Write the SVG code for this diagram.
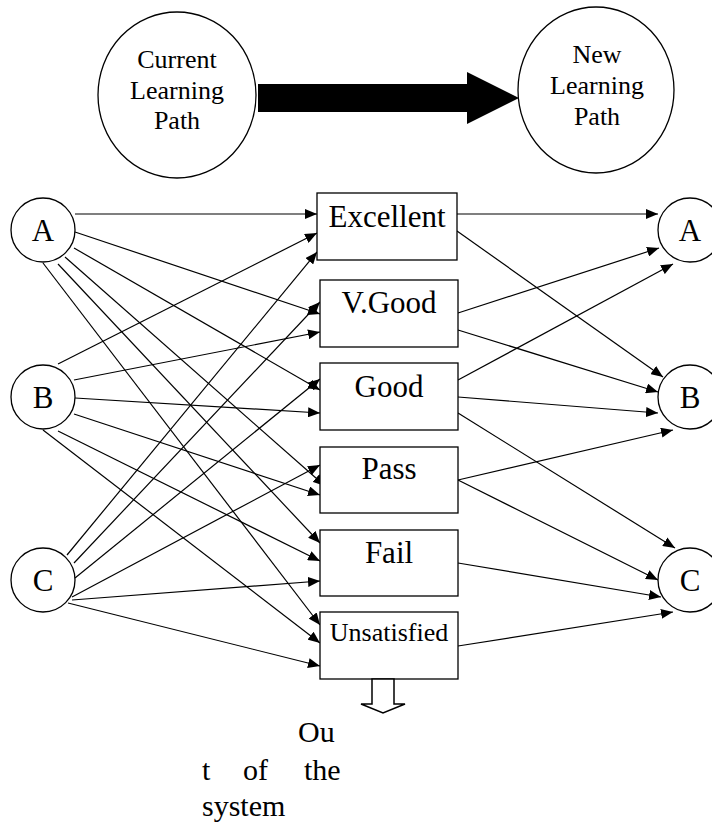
<svg xmlns="http://www.w3.org/2000/svg" width="712" height="823" viewBox="0 0 712 823">
<style>
.nd{fill:#fff;stroke:#000;stroke-width:1.3}
.t{font-family:"Liberation Serif","Times New Roman",serif;fill:#000;text-anchor:middle}
.lbl{font-size:31px}
.top{font-size:26px}
.c line{stroke:#000;stroke-width:1.2;marker-end:url(#ah)}
</style>
<defs>
<marker id="ah" viewBox="0 0 12 10" refX="12" refY="5" markerWidth="12" markerHeight="10" markerUnits="userSpaceOnUse" orient="auto">
<path d="M0,0 L12,5 L0,10 Z" fill="#000"/>
</marker>
</defs>
<rect width="712" height="823" fill="#fff"/>

<g id="current">
<ellipse class="nd" cx="177" cy="95" rx="79" ry="83"/>
<text class="t top" x="177" y="68">Current</text>
<text class="t top" x="177" y="99">Learning</text>
<text class="t top" x="177" y="129">Path</text>
</g>
<g id="bigarrow">
<polygon points="258,84 467,84 467,72 519,98 467,124 467,112 258,112" fill="#000"/>
</g>
<g id="new">
<ellipse class="nd" cx="596" cy="90" rx="78" ry="83"/>
<text class="t top" x="597" y="63">New</text>
<text class="t top" x="597" y="94">Learning</text>
<text class="t top" x="597" y="125">Path</text>
</g>

<g class="c" id="connectors">
<line x1="75" y1="214" x2="317" y2="214"/>
<line x1="75" y1="232" x2="320" y2="314"/>
<line x1="74" y1="248" x2="320" y2="390"/>
<line x1="65" y1="257" x2="325" y2="486"/>
<line x1="58" y1="264" x2="320" y2="543"/>
<line x1="43" y1="263" x2="320" y2="625"/>

<line x1="58" y1="364" x2="317" y2="233"/>
<line x1="74" y1="380" x2="320" y2="332"/>
<line x1="75" y1="398" x2="320" y2="413"/>
<line x1="74" y1="414" x2="320" y2="495"/>
<line x1="58" y1="431" x2="320" y2="561"/>
<line x1="43" y1="430" x2="320" y2="643"/>

<line x1="67" y1="555" x2="317" y2="252"/>
<line x1="74" y1="563" x2="320" y2="302"/>
<line x1="75" y1="578" x2="320" y2="379"/>
<line x1="72" y1="597" x2="320" y2="465"/>
<line x1="72" y1="600" x2="320" y2="581"/>
<line x1="68" y1="603" x2="320" y2="666"/>

<line x1="457" y1="214" x2="658" y2="214"/>
<line x1="457" y1="231" x2="663" y2="377"/>
<line x1="458" y1="313" x2="659" y2="248"/>
<line x1="458" y1="330" x2="658" y2="392"/>
<line x1="458" y1="380" x2="673" y2="264"/>
<line x1="458" y1="397" x2="658" y2="413"/>
<line x1="458" y1="413" x2="675" y2="548"/>
<line x1="458" y1="480" x2="673" y2="430"/>
<line x1="458" y1="480" x2="658" y2="580"/>
<line x1="458" y1="563" x2="661" y2="597"/>
<line x1="458" y1="646" x2="673" y2="612"/>
</g>

<g id="A1"><circle class="nd" cx="43" cy="230" r="32"/><text class="t lbl" x="43" y="241">A</text></g>
<g id="B1"><circle class="nd" cx="43" cy="397" r="32"/><text class="t lbl" x="43" y="408">B</text></g>
<g id="C1"><circle class="nd" cx="43" cy="580" r="32"/><text class="t lbl" x="43" y="591">C</text></g>

<g id="excellent"><rect class="nd" x="317" y="193" width="140" height="67"/><text class="t lbl" x="387" y="227">Excellent</text></g>
<g id="vgood"><rect class="nd" x="320" y="280" width="138" height="67"/><text class="t lbl" x="389" y="313">V.Good</text></g>
<g id="good"><rect class="nd" x="320" y="363" width="138" height="67"/><text class="t lbl" x="389" y="397">Good</text></g>
<g id="pass"><rect class="nd" x="320" y="447" width="138" height="66"/><text class="t lbl" x="389" y="479">Pass</text></g>
<g id="fail"><rect class="nd" x="320" y="530" width="138" height="66"/><text class="t lbl" x="389" y="563">Fail</text></g>
<g id="unsat"><rect class="nd" x="320" y="612" width="138" height="67"/><text class="t" style="font-size:26px" x="389" y="641">Unsatisfied</text></g>

<g id="A2"><circle class="nd" cx="690" cy="230" r="32"/><text class="t lbl" x="690" y="241">A</text></g>
<g id="B2"><circle class="nd" cx="690" cy="397" r="32"/><text class="t lbl" x="690" y="408">B</text></g>
<g id="C2"><circle class="nd" cx="690" cy="580" r="32"/><text class="t lbl" x="690" y="591">C</text></g>

<g id="out">
<polygon points="372,679 372,704 361,704 383,713 405,704 394,704 394,679" fill="#fff" stroke="#000" stroke-width="1.5"/>
<text class="t" style="font-size:30px;text-anchor:start" x="298" y="742">Ou</text>
<text class="t" style="font-size:30px;text-anchor:start" x="202" y="780">t</text>
<text class="t" style="font-size:30px;text-anchor:start" x="243" y="780">of</text>
<text class="t" style="font-size:30px;text-anchor:start" x="304" y="780">the</text>
<text class="t" style="font-size:30px;text-anchor:start" x="202" y="816">system</text>
</g>
</svg>
